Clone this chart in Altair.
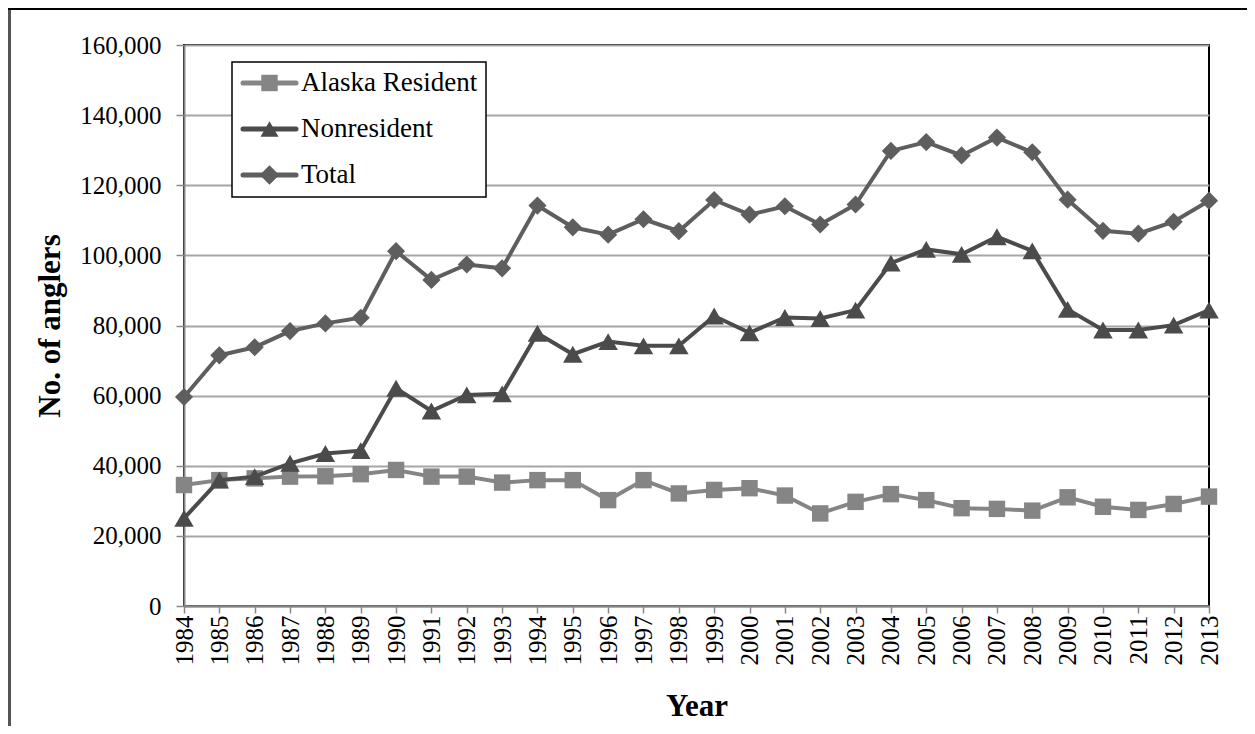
import altair as alt
import pandas as pd

years = [1984, 1985, 1986, 1987, 1988, 1989, 1990, 1991, 1992, 1993,
         1994, 1995, 1996, 1997, 1998, 1999, 2000, 2001, 2002, 2003,
         2004, 2005, 2006, 2007, 2008, 2009, 2010, 2011, 2012, 2013]

alaska_resident = [34500, 35900, 36400, 36900, 37000, 37600, 38800, 36900, 36900, 35200,
                   35900, 35900, 30200, 35900, 32100, 33100, 33600, 31500, 26400, 29700,
                   31900, 30200, 27900, 27700, 27200, 31000, 28300, 27400, 29100, 31200]

nonresident = [25000, 35900, 36900, 40700, 43500, 44300, 62100, 55600, 60200, 60500,
               77800, 71800, 75400, 74200, 74200, 82700, 77900, 82300, 82000, 84400,
               97800, 101700, 100300, 105300, 101300, 84600, 78700, 78700, 80100, 84400]

total = [59600, 71500, 73800, 78400, 80600, 82200, 101200, 93000, 97400, 96300,
         114200, 108000, 105900, 110300, 106900, 115800, 111600, 114000, 108800, 114500,
         129800, 132300, 128500, 133600, 129400, 115900, 107000, 106200, 109600, 115600]

series_names = ["Alaska Resident", "Nonresident", "Total"]
series_values = [alaska_resident, nonresident, total]
series_colors = ["#858585", "#4b4b4b", "#5e5e5e"]
series_shapes = ["square", "triangle-up", "diamond"]
series_sizes = [270, 380, 330]
y_ticks = [0, 20000, 40000, 60000, 80000, 100000, 120000, 140000, 160000]

FONT = "Liberation Serif"

rows = []
for name, vals in zip(series_names, series_values):
    for yr, v in zip(years, vals):
        rows.append({"year": str(yr), "series": name, "anglers": v})
df = pd.DataFrame(rows)

x_enc = alt.X(
    "year:O",
    sort=[str(y) for y in years],
    scale=alt.Scale(type="point", padding=0),
    axis=alt.Axis(title="Year", labelAngle=-90, grid=False, tickSize=7,
                  labelPadding=2, titlePadding=26),
)
y_enc = alt.Y(
    "anglers:Q",
    scale=alt.Scale(domain=[0, 160000], nice=False),
    axis=alt.Axis(title="No. of anglers", values=y_ticks, format=",d",
                  grid=True, tickSize=8, labelPadding=15, titlePadding=13),
)

data_layers = []
for name, col, shp, sz in zip(series_names, series_colors, series_shapes, series_sizes):
    base = alt.Chart(df).transform_filter(alt.datum.series == name)
    data_layers.append(base.mark_line(color=col, strokeWidth=4))
    data_layers.append(
        base.mark_point(shape=shp, filled=True, color=col, size=sz, opacity=1)
    )
main = alt.layer(*data_layers).encode(x=x_enc, y=y_enc)

# ---- legend (drawn as a boxed key) ----
leg_df = pd.DataFrame({"series": series_names})
one = pd.DataFrame({"k": [0]})
leg_y = alt.Y("series:N", sort=series_names,
              scale=alt.Scale(type="point", domain=series_names, range=[38, 130], padding=0),
              axis=None)
leg_color = alt.Color("series:N", scale=alt.Scale(domain=series_names, range=series_colors), legend=None)
leg_shape = alt.Shape("series:N", scale=alt.Scale(domain=series_names, range=series_shapes), legend=None)
leg_size = alt.Size("series:N", scale=alt.Scale(domain=series_names, range=series_sizes), legend=None)

frame_left = alt.Chart(one).mark_rule(color="#555555", strokeWidth=3).encode(
    x=alt.value(-174.5), y=alt.value(-40), y2=alt.value(720))
frame_top = alt.Chart(one).mark_rule(color="#000000", strokeWidth=2).encode(
    x=alt.value(-176), x2=alt.value(1100), y=alt.value(-36))
box = alt.Chart(one).mark_rect(fill="white", stroke="black", strokeWidth=1.5).encode(
    x=alt.value(48), x2=alt.value(302), y=alt.value(17), y2=alt.value(152))
stubs = alt.Chart(leg_df).mark_rule(strokeWidth=5, strokeCap="round").encode(
    x=alt.value(59), x2=alt.value(112), y=leg_y, color=leg_color)
marks = alt.Chart(leg_df).mark_point(filled=True, opacity=1).encode(
    x=alt.value(85.5), y=leg_y, color=leg_color, shape=leg_shape, size=leg_size)
texts = alt.Chart(leg_df).mark_text(align="left", baseline="middle", fontSize=27,
                                    font=FONT, color="black").encode(
    x=alt.value(117), y=leg_y, text="series:N")
legend = alt.layer(frame_left, frame_top, box, stubs, marks, texts)

chart = (
    alt.layer(main, legend)
    .resolve_scale(y="independent")
    .properties(
        width=1025, height=561,
        autosize=alt.AutoSizeParams(type="none"),
        padding={"left": 176, "top": 37, "right": 38, "bottom": 120},
        background="white",
    )
    .configure(font=FONT)
    .configure_view(stroke="black", strokeWidth=2)
    .configure_axis(
        labelFont=FONT, labelFontSize=25, labelColor="black",
        titleFont=FONT, titleFontSize=31, titleFontWeight="bold", titleColor="black",
        tickColor="#888888", tickWidth=1.5, domainColor="#888888", domainWidth=2,
        gridColor="#a6a6a6", gridWidth=2,
    )
)

chart.save("out.html", embed_options={"renderer": "svg", "actions": False})
